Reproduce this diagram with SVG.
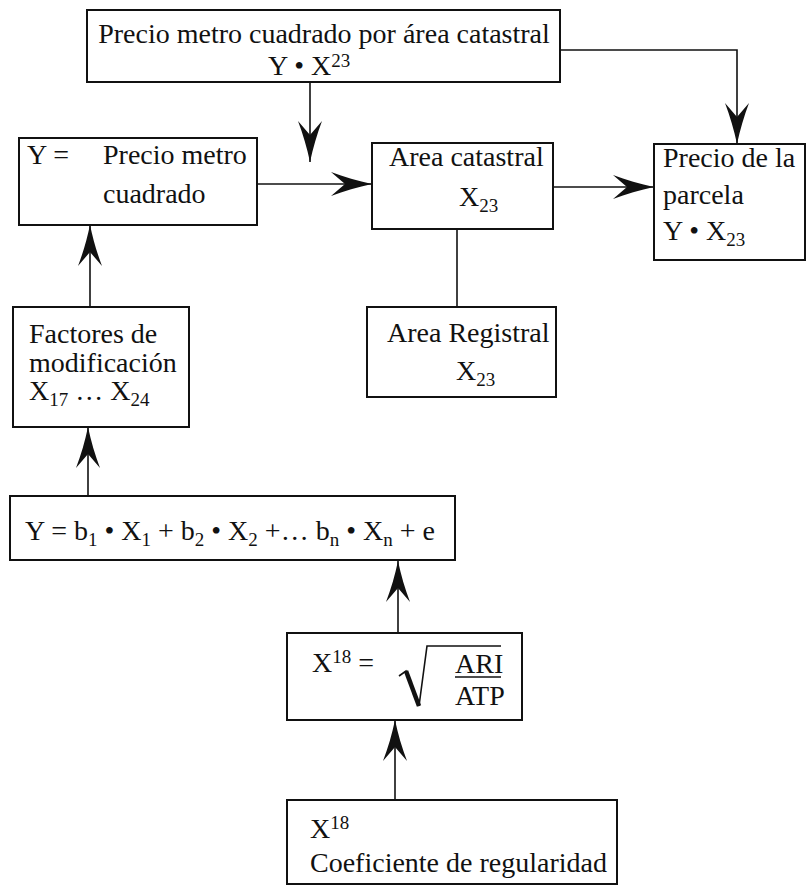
<svg xmlns="http://www.w3.org/2000/svg" width="807" height="890" viewBox="0 0 807 890">
<style>
.box{fill:#fff;stroke:#111;stroke-width:2}
.t{font-family:"Liberation Serif","Times New Roman",serif;font-size:28px;fill:#111}
.s{font-size:19px}
.ln{fill:none;stroke:#111;stroke-width:1.6}
</style>
<defs>
<marker id="ah" markerUnits="userSpaceOnUse" orient="auto" refX="0" refY="0" viewBox="-44 -14 46 28" markerWidth="46" markerHeight="28" overflow="visible">
<path d="M0,0 C-14,-3 -28,-7 -41,-12 L-27,0 L-41,12 C-28,7 -14,3 0,0 Z" fill="#111"/>
</marker>
</defs>
<rect width="807" height="890" fill="#fff"/>
<g id="connectors">
<path class="ln" d="M310,82 V162" marker-end="url(#ah)"/>
<path class="ln" d="M560,50 H737 V144" marker-end="url(#ah)"/>
<path class="ln" d="M257,184 H372" marker-end="url(#ah)"/>
<path class="ln" d="M553,187 H654" marker-end="url(#ah)"/>
<path class="ln" d="M457,229 V307"/>
<path class="ln" d="M90,307 V225" marker-end="url(#ah)"/>
<path class="ln" d="M88,496 V427" marker-end="url(#ah)"/>
<path class="ln" d="M398,633 V561" marker-end="url(#ah)"/>
<path class="ln" d="M395,800 V720" marker-end="url(#ah)"/>
</g>
<g id="precio-area">
<rect class="box" x="87" y="10" width="473" height="72"/>
<text class="t" x="324" y="43" text-anchor="middle">Precio metro cuadrado por área catastral</text>
<text class="t" x="268" y="75">Y • X<tspan class="s" dy="-8">23</tspan></text>
</g>
<g id="precio-m2">
<rect class="box" x="19" y="138" width="238" height="87"/>
<text class="t" x="27" y="164">Y =</text>
<text class="t" x="103" y="164">Precio metro</text>
<text class="t" x="103" y="203">cuadrado</text>
</g>
<g id="area-catastral">
<rect class="box" x="372" y="143" width="181" height="86"/>
<text class="t" x="389" y="166">Area catastral</text>
<text class="t" x="459" y="206">X<tspan class="s" dy="6">23</tspan></text>
</g>
<g id="precio-parcela">
<rect class="box" x="654" y="144" width="151" height="116"/>
<text class="t" x="663" y="167">Precio de la</text>
<text class="t" x="663" y="204">parcela</text>
<text class="t" x="663" y="240">Y • X<tspan class="s" dy="6">23</tspan></text>
</g>
<g id="area-registral">
<rect class="box" x="367" y="307" width="189" height="90"/>
<text class="t" x="387" y="342">Area Registral</text>
<text class="t" x="456" y="380">X<tspan class="s" dy="6">23</tspan></text>
</g>
<g id="factores">
<rect class="box" x="13" y="307" width="176" height="120"/>
<text class="t" x="29" y="343">Factores de</text>
<text class="t" x="29" y="372">modificación</text>
<text class="t" x="29" y="400">X<tspan class="s" dy="6">17</tspan><tspan dy="-6"> … X</tspan><tspan class="s" dy="6">24</tspan></text>
</g>
<g id="ecuacion">
<rect class="box" x="10" y="496" width="445" height="64"/>
<text class="t" x="25" y="540">Y = b<tspan class="s" dy="6">1</tspan><tspan dy="-6"> • X</tspan><tspan class="s" dy="6">1</tspan><tspan dy="-6"> + b</tspan><tspan class="s" dy="6">2</tspan><tspan dy="-6"> • X</tspan><tspan class="s" dy="6">2</tspan><tspan dy="-6"> +… b</tspan><tspan class="s" dy="6">n</tspan><tspan dy="-6"> • X</tspan><tspan class="s" dy="6">n</tspan><tspan dy="-6"> + e</tspan></text>
</g>
<g id="raiz">
<rect class="box" x="287" y="633" width="235" height="87"/>
<text class="t" x="312" y="672">X<tspan class="s" dy="-9">18</tspan><tspan dy="9"> =</tspan></text>
<path d="M399,676 L406,671 L419,706 L427,646 L501,646" fill="none" stroke="#111" stroke-width="1.6" stroke-linejoin="miter"/>
<path d="M406,671 L419,706" stroke="#111" stroke-width="4.5"/>
<text class="t" x="455" y="673">ARI</text>
<path d="M455,677 H501" stroke="#111" stroke-width="1.6"/>
<text class="t" x="455" y="705">ATP</text>
</g>
<g id="coeficiente">
<rect class="box" x="287" y="800" width="330" height="84"/>
<text class="t" x="310" y="838">X<tspan class="s" dy="-9">18</tspan></text>
<text class="t" x="310" y="872">Coeficiente de regularidad</text>
</g>
</svg>
